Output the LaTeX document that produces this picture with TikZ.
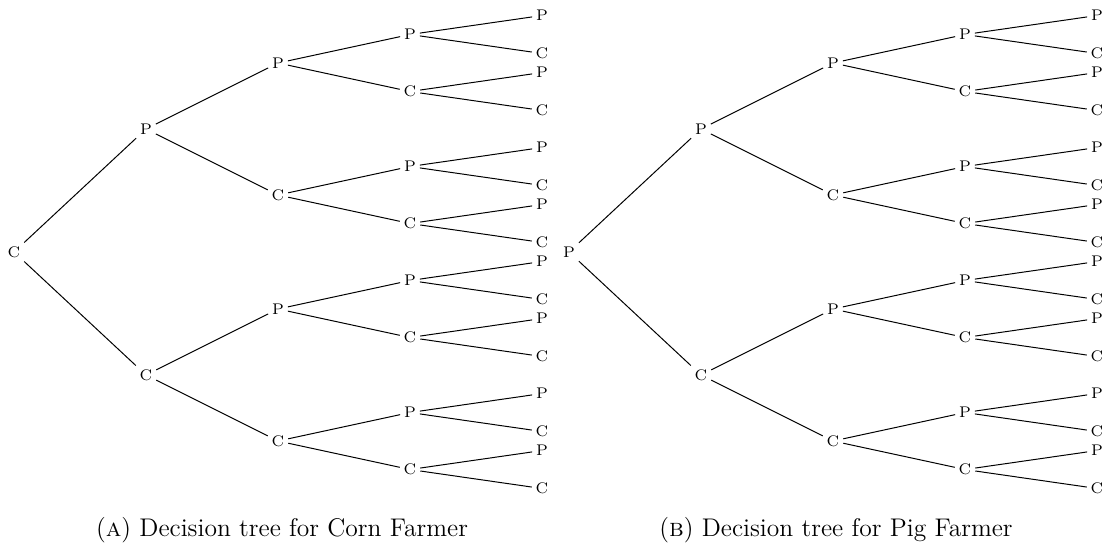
\documentclass[tikz,border=0pt]{standalone}
\begin{document}
\begin{tikzpicture}[x=0.4545pt,y=-0.4545pt,
  lab/.style={font=\scriptsize,inner sep=1.6pt},
  capt/.style={font=\fontsize{11.6}{14}\selectfont,inner sep=0pt},
  edge/.style={line width=0.45pt}]
\useasboundingbox (0,0) rectangle (1105,545);
\newcommand\PCsym[1]{\ifnum#1=0 P\else C\fi}
\foreach \t/\xo/\rl in {A/14/C,B/569/P} {
  \node[lab] (\t) at (\xo,252) {\rl};
  \foreach \i in {0,1} {
    \pgfmathsetmacro\ya{252+(2*\i-1)*123}
    \node[lab] (\t\i) at (\xo+132,\ya) {\PCsym{\i}};
    \draw[edge] (\t) -- (\t\i);
    \foreach \j in {0,1} {
      \pgfmathsetmacro\yb{\ya+(2*\j-1)*66}
      \node[lab] (\t\i\j) at (\xo+264,\yb) {\PCsym{\j}};
      \draw[edge] (\t\i) -- (\t\i\j);
      \foreach \k in {0,1} {
        \pgfmathsetmacro\yc{\yb+(2*\k-1)*28.5}
        \node[lab] (\t\i\j\k) at (\xo+396,\yc) {\PCsym{\k}};
        \draw[edge] (\t\i\j) -- (\t\i\j\k);
        \foreach \l in {0,1} {
          \pgfmathsetmacro\yd{\yc+(2*\l-1)*19}
          \node[lab] (\t\i\j\k\l) at (\xo+528,\yd) {\PCsym{\l}};
          \draw[edge] (\t\i\j\k) -- (\t\i\j\k\l);
        }
      }
    }
  }
}
\node[capt,anchor=base] (captA) at (282,536) {(\textsc{a}) Decision tree for Corn Farmer};
\node[capt,anchor=base] (captB) at (836,536) {(\textsc{b}) Decision tree for Pig Farmer};
\end{tikzpicture}
\end{document}
